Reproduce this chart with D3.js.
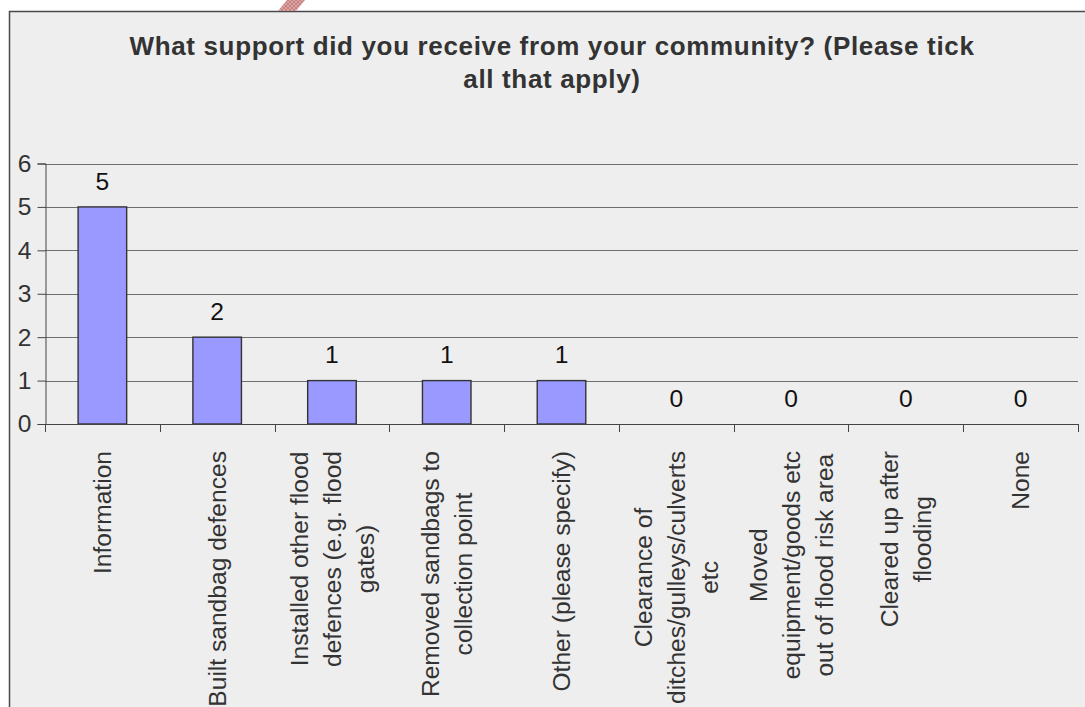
<!DOCTYPE html>
<html>
<head>
<meta charset="utf-8">
<script src="https://cdn.jsdelivr.net/npm/d3@7"></script>
<style>
  html, body { margin: 0; padding: 0; background: #ffffff; }
  svg { display: block; }
  text { font-family: "Liberation Sans", Arial, sans-serif; }
</style>
</head>
<body>
<svg id="chart" width="1085" height="707"></svg>
<script>
// Survey responses: support received from the community
const categories = [
  ["Information"],
  ["Built sandbag defences"],
  ["Installed other flood", "defences (e.g. flood", "gates)"],
  ["Removed sandbags to", "collection point"],
  ["Other (please specify)"],
  ["Clearance of", "ditches/gulleys/culverts", "etc"],
  ["Moved", "equipment/goods etc", "out of flood risk area"],
  ["Cleared up after", "flooding"],
  ["None"]
];
const counts = [5, 2, 1, 1, 1, 0, 0, 0, 0];
const yTicks = [0, 1, 2, 3, 4, 5, 6];
const titleLines = [
  "What support did you receive from your community? (Please tick",
  "all that apply)"
];

const svg = d3.select("#chart");
const W = 1085, H = 707;
const FS = 24.6;

// chart frame
svg.append("rect")
  .attr("x", 9.5).attr("y", 11.5)
  .attr("width", W + 20).attr("height", H + 20)
  .attr("fill", "#eeeeee")
  .attr("stroke", "#4a4a4a").attr("stroke-width", 1.5);

// small hatched tab poking above the frame
const defs = svg.append("defs");
const pat = defs.append("pattern")
  .attr("id", "hatch").attr("patternUnits", "userSpaceOnUse")
  .attr("width", 4).attr("height", 4);
pat.append("rect").attr("width", 4).attr("height", 4).attr("fill", "#d9a3a3");
pat.append("path").attr("d", "M0,4 L4,0 M0,0 L4,4")
  .attr("stroke", "#c47878").attr("stroke-width", 0.8);
svg.append("polygon")
  .attr("points", "278,11 296,11 305,0 287,0")
  .attr("fill", "url(#hatch)");

const plot = { left: 45, right: 1078, top: 163.5, bottom: 424 };

const x = d3.scaleBand()
  .domain(d3.range(categories.length))
  .range([plot.left, plot.right])
  .padding(0);

const y = d3.scaleLinear()
  .domain([0, 6])
  .range([plot.bottom, plot.top]);

const barW = x.bandwidth() * 0.423;

// gridlines
svg.append("g")
  .selectAll("line")
  .data(yTicks.filter(d => d > 0))
  .join("line")
  .attr("x1", plot.left).attr("x2", plot.right)
  .attr("y1", d => Math.round(y(d)) + 0.5).attr("y2", d => Math.round(y(d)) + 0.5)
  .attr("stroke", "#6e6e6e").attr("stroke-width", 1);

// bars
svg.append("g")
  .selectAll("rect")
  .data(counts)
  .join("rect")
  .attr("x", (d, i) => x(i) + (x.bandwidth() - barW) / 2)
  .attr("y", d => y(d))
  .attr("width", barW)
  .attr("height", d => y(0) - y(d))
  .attr("fill", "#9999ff")
  .attr("stroke", "#333333")
  .attr("stroke-width", 1.4);

// y axis
const yAxis = d3.axisLeft(y).tickValues(yTicks).tickSize(8).tickPadding(6)
  .tickFormat(d3.format("d"));
const gy = svg.append("g")
  .attr("transform", `translate(${plot.left + 0.5},0)`)
  .call(yAxis);
gy.select(".domain").attr("stroke", "#444");
gy.selectAll(".tick line").attr("stroke", "#444");
gy.selectAll(".tick text")
  .attr("font-size", FS).attr("fill", "#333")
  .attr("font-family", "Liberation Sans, Arial, sans-serif");

// x axis line and tick marks at band edges
const edges = d3.range(categories.length + 1).map(i =>
  i < categories.length ? x(i) : plot.right);
svg.append("line")
  .attr("x1", plot.left).attr("x2", plot.right)
  .attr("y1", plot.bottom + 0.5).attr("y2", plot.bottom + 0.5)
  .attr("stroke", "#444").attr("stroke-width", 1);
svg.append("g")
  .selectAll("line")
  .data(edges)
  .join("line")
  .attr("x1", d => Math.round(d) + 0.5).attr("x2", d => Math.round(d) + 0.5)
  .attr("y1", plot.bottom).attr("y2", plot.bottom + 8)
  .attr("stroke", "#444");

// value labels
svg.append("g")
  .selectAll("text")
  .data(counts)
  .join("text")
  .attr("x", (d, i) => x(i) + x.bandwidth() / 2)
  .attr("y", d => y(d) - 26)
  .attr("dy", "0.35em")
  .attr("text-anchor", "middle")
  .attr("font-size", FS)
  .attr("fill", "#111")
  .text(d => d);

// rotated, wrapped category labels (lines centred within the block)
const labelTop = 451;
const lineGap = 33;
const catG = svg.append("g");
categories.forEach((lines, i) => {
  const cx = x(i) + x.bandwidth() / 2;
  const g = catG.append("g")
    .attr("transform", `translate(${cx},${labelTop}) rotate(-90)`);
  const texts = lines.map((ln, k) => g.append("text")
    .attr("font-size", FS)
    .attr("fill", "#333")
    .attr("text-anchor", "middle")
    .attr("dy", "0.35em")
    .attr("y", (k - (lines.length - 1) / 2) * lineGap)
    .text(ln));
  const maxW = d3.max(texts, t => t.node().getComputedTextLength());
  texts.forEach(t => t.attr("x", -maxW / 2));
});

// title
svg.append("g")
  .selectAll("text")
  .data(titleLines)
  .join("text")
  .attr("x", 552)
  .attr("y", (d, i) => 55 + i * 33)
  .attr("text-anchor", "middle")
  .attr("font-size", 26)
  .attr("font-weight", "bold")
  .attr("letter-spacing", 0.65)
  .attr("fill", "#333")
  .text(d => d);
</script>
</body>
</html>
